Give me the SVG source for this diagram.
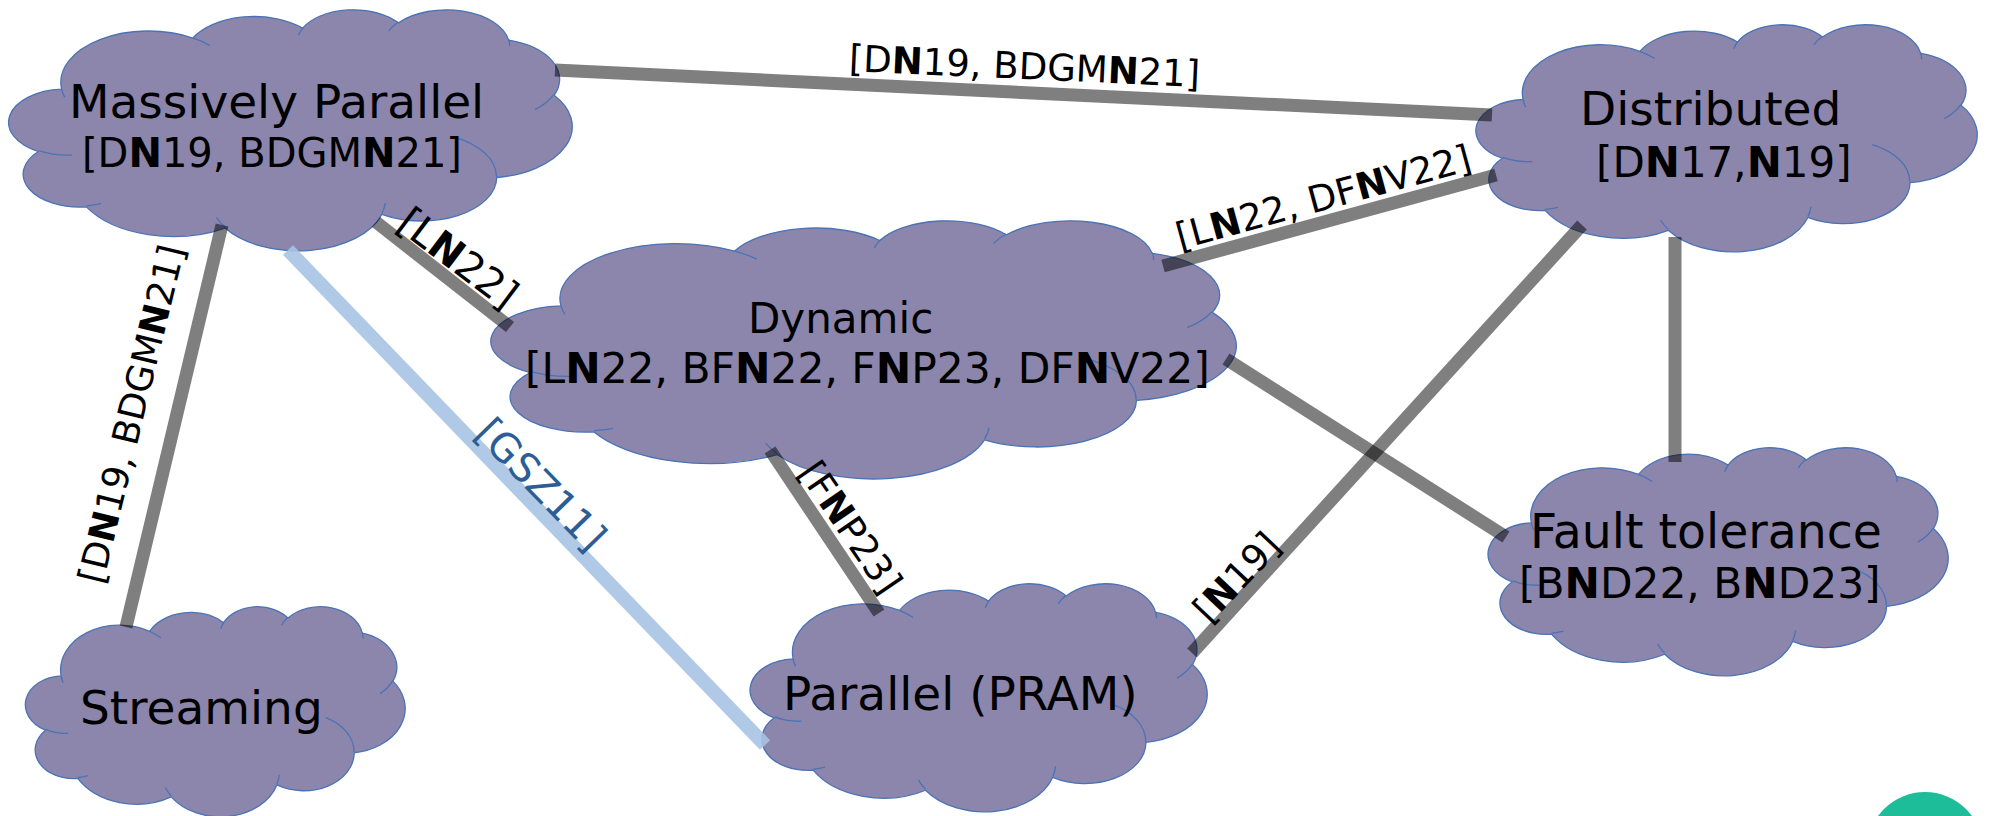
<svg xmlns="http://www.w3.org/2000/svg" xmlns:xlink="http://www.w3.org/1999/xlink" width="1990" height="816" viewBox="0 0 1990 816">
  <style>
    .cloud-body { fill: #8C86AD; stroke: #4A73B5; stroke-width: 1.3; stroke-linejoin: round; vector-effect: non-scaling-stroke; }
    .cloud-fold { fill: none; stroke: #4A73B5; stroke-width: 1.3; vector-effect: non-scaling-stroke; }
    text { font-family: "DejaVu Sans", "Liberation Sans", sans-serif; fill: #000; }
    .b { font-weight: bold; }
    .edge { stroke: #000; stroke-opacity: 0.5; stroke-width: 13; stroke-linecap: butt; fill: none; }
    .edge-blue { stroke: #A6C3E3; stroke-opacity: 0.9; stroke-width: 14; stroke-linecap: butt; fill: none; }
    .lbl { font-size: 37px; }
    .lbl-blue { font-size: 40px; fill: #2D5D96; }
  </style>
  <defs>
    <g id="cloud">
      <path class="cloud-body" d="M9.028 33.264 A15.632 21.273 0 0 1 32.421 12.043 A12.345 16.822 0 0 1 51.981 7.946 A10.104 13.762 0 0 1 69.059 5.745 A11.243 15.266 0 0 1 88.702 12.909 A12.345 16.836 0 0 1 96.805 35.787 A15.683 21.343 0 0 1 86.586 69.914 A13.391 18.211 0 0 1 66.105 85.217 A15.630 21.331 0 0 1 38.151 90.892 A17.870 24.405 0 0 1 13.435 82.105 A10.093 13.699 0 0 1 4.890 59.139 A10.058 13.762 0 0 1 9.028 33.264 Z"/>
      <path class="cloud-fold" d="M10.863 60.595 A10.058 13.762 0 0 1 4.998 58.748 M16.037 80.785 A10.093 13.699 0 0 1 13.471 81.668 M38.144 90.486 A15.630 21.331 0 0 1 36.598 86.454 M66.729 80.442 A15.630 21.331 0 0 1 66.111 84.861 M79.002 53.134 A13.391 18.211 0 0 1 86.529 69.652 M96.755 35.542 A12.345 16.836 0 0 1 93.405 41.734 M88.713 12.560 A11.243 15.266 0 0 1 88.890 15.485 M67.310 9.148 A11.243 15.266 0 0 1 69.028 5.417 M51.252 10.926 A10.104 13.762 0 0 1 52.083 7.709 M32.407 12.019 A15.632 21.273 0 0 1 35.417 15.139 M9.553 36.549 A15.632 21.273 0 0 1 9.028 33.264"/>
    </g>
  </defs>

  <rect width="1990" height="816" fill="#FFFFFF"/>

  <g id="nodes">
    <g id="node-massively-parallel">
      <use xlink:href="#cloud" href="#cloud" transform="translate(11,9) scale(5.61,2.41)"/>
      <text x="69" y="118" font-size="47">Massively Parallel</text>
      <text x="82" y="167" font-size="40">[D<tspan class="b">N</tspan>19, BDGM<tspan class="b">N</tspan>21]</text>
    </g>
    <g id="node-distributed">
      <use xlink:href="#cloud" href="#cloud" transform="translate(1478,24) scale(4.99,2.27)"/>
      <text x="1580" y="125" font-size="47">Distributed</text>
      <text x="1596" y="177" font-size="42">[D<tspan class="b">N</tspan>17,<tspan class="b">N</tspan>19]</text>
    </g>
    <g id="node-dynamic">
      <use xlink:href="#cloud" href="#cloud" transform="translate(494,220) scale(7.42,2.58)"/>
      <text x="748" y="333" font-size="42">Dynamic</text>
      <text x="525" y="383" font-size="42.4">[L<tspan class="b">N</tspan>22, BF<tspan class="b">N</tspan>22, F<tspan class="b">N</tspan>P23, DF<tspan class="b">N</tspan>V22]</text>
    </g>
    <g id="node-parallel-pram">
      <use xlink:href="#cloud" href="#cloud" transform="translate(752,583) scale(4.55,2.28)"/>
      <text x="783" y="710" font-size="47">Parallel (PRAM)</text>
    </g>
    <g id="node-streaming">
      <use xlink:href="#cloud" href="#cloud" transform="translate(27,606) scale(3.78,2.10)"/>
      <text x="80" y="724" font-size="47">Streaming</text>
    </g>
    <g id="node-fault-tolerance">
      <use xlink:href="#cloud" href="#cloud" transform="translate(1490,447) scale(4.58,2.28)"/>
      <text x="1530" y="548" font-size="47.3">Fault tolerance</text>
      <text x="1519" y="598" font-size="42.3">[B<tspan class="b">N</tspan>D22, B<tspan class="b">N</tspan>D23]</text>
    </g>
  </g>

  <g id="connectors">
    <line class="edge-blue" x1="288" y1="250" x2="765" y2="745"/>
    <line class="edge" x1="555" y1="70" x2="1492" y2="115"/>
    <line class="edge" x1="376" y1="222" x2="510" y2="327"/>
    <line class="edge" x1="222" y1="225" x2="126" y2="627"/>
    <line class="edge" x1="1163" y1="266" x2="1496" y2="175"/>
    <line class="edge" x1="770" y1="450" x2="879" y2="613"/>
    <line class="edge" x1="1582" y1="225" x2="1192" y2="653"/>
    <line class="edge" x1="1226" y1="359" x2="1506" y2="537"/>
    <line class="edge" x1="1675" y1="237" x2="1675" y2="462"/>

    <text class="lbl" text-anchor="middle" transform="translate(1024,79) rotate(2.6)">[D<tspan class="b">N</tspan>19, BDGM<tspan class="b">N</tspan>21]</text>
    <text class="lbl" style="font-size:40px" text-anchor="middle" transform="translate(449.7,269.2) rotate(37)">[L<tspan class="b">N</tspan>22]</text>
    <text class="lbl" style="font-size:36.5px" text-anchor="middle" transform="translate(143.7,417) rotate(-76.3)">[D<tspan class="b">N</tspan>19, BDGM<tspan class="b">N</tspan>21]</text>
    <text class="lbl-blue" text-anchor="middle" transform="translate(531,494.3) rotate(45.8)">[GSZ11]</text>
    <text class="lbl" text-anchor="middle" transform="translate(1326.6,209.6) rotate(-15.3)">[L<tspan class="b">N</tspan>22, DF<tspan class="b">N</tspan>V22]</text>
    <text class="lbl" text-anchor="middle" transform="translate(839.8,534.7) rotate(55.6)">[F<tspan class="b">N</tspan>P23]</text>
    <text class="lbl" text-anchor="middle" transform="translate(1246,586) rotate(-46.5)">[<tspan class="b">N</tspan>19]</text>
  </g>

  <circle id="corner-dot" cx="1925" cy="850" r="58" fill="#1DBD9A"/>
</svg>
